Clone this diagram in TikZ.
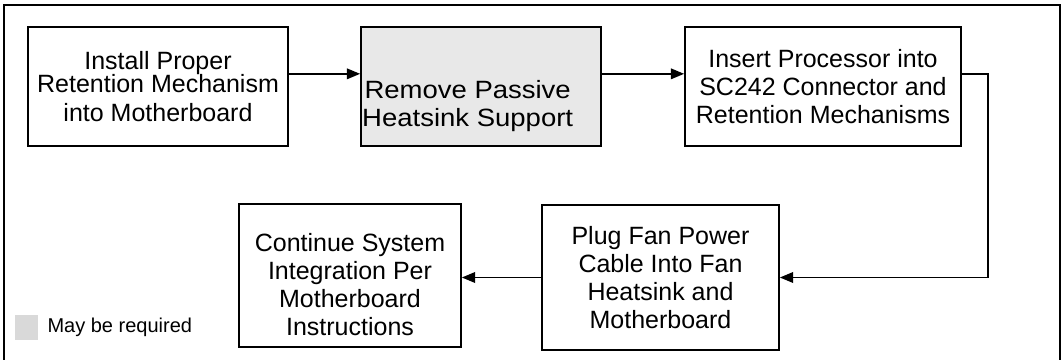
\documentclass[tikz,border=0pt]{standalone}
\usepackage{fontspec}
\setmainfont{Liberation Sans}
\newfontfamily\widesans[FakeStretch=1.1]{Liberation Sans}
\usetikzlibrary{arrows.meta,positioning}
\definecolor{shade}{RGB}{232,232,232}
\definecolor{keygray}{RGB}{217,217,217}
\newcommand{\boxfont}{\fontsize{18.75pt}{21pt}\selectfont}
\tikzset{
  >={Triangle[length=10pt,width=8pt]},
  stepbox/.style={draw=black,line width=1.3pt,fill=#1,align=center,font=\boxfont,inner sep=1pt},
  stepbox/.default=white,
  boxtext/.style={align=center,font=\boxfont,inner sep=0pt},
  flow/.style={->,line width=1.2pt},
  frame/.style={line width=1.8pt},
  swatch/.style={fill=keygray,minimum width=17.25pt,minimum height=18.75pt,inner sep=0pt},
  keytext/.style={font=\fontsize{15pt}{18pt}\selectfont,inner sep=0pt},
}

\begin{document}
\begin{tikzpicture}[x=0.75pt,y=-0.75pt]
  \useasboundingbox (0,0) rectangle (1064,360);
  \draw[frame] (4,364) -- (4,5) -- (1060,5) -- (1060,364);

  % top row
  \node[stepbox,minimum width=195pt,minimum height=89.25pt] (install) at (158,86.5)
    {Install Proper\\[-4pt]Retention Mechanism\\[0.5pt]into Motherboard};
  \node[stepbox=shade,minimum width=180pt,minimum height=89.25pt,
    label={[boxtext,font=\widesans\boxfont,xshift=-10pt,yshift=-15pt]center:Remove Passive\\Heatsink Support}]
    (remove) at (481,86.5) {};
  \node[stepbox,minimum width=207pt,minimum height=89.25pt] (insert) at (823,86.5)
    {Insert Processor into\\SC242 Connector and\\Retention Mechanisms};

  % bottom row
  \node[stepbox,minimum width=177.75pt,minimum height=108.75pt] (plug) at (660.5,277.5)
    {Plug Fan Power\\Cable Into Fan\\Heatsink and\\Motherboard};
  \node[stepbox,minimum width=166.5pt,minimum height=107.25pt,
    label={[boxtext,yshift=-7pt]center:Continue System\\Integration Per\\Motherboard\\Instructions}]
    (continue) at (350,275.5) {};

  \draw[flow] ([yshift=9.5pt]install.east) -- ([yshift=9.5pt]install.east -| remove.west);
  \draw[flow] ([yshift=9.5pt]remove.east) -- ([yshift=9.5pt]remove.east -| insert.west);
  \draw[flow] ([yshift=9.5pt]insert.east) -- ++(26,0) coordinate (turn) |- (plug.east);
  \draw[flow] (plug.west) -- (plug.west -| continue.east);

  % legend
  \node[swatch] (key) at (26.5,327.5) {};
  \node[keytext,right=6.75pt of key] (keylabel) {May be required};
\end{tikzpicture}
\end{document}
